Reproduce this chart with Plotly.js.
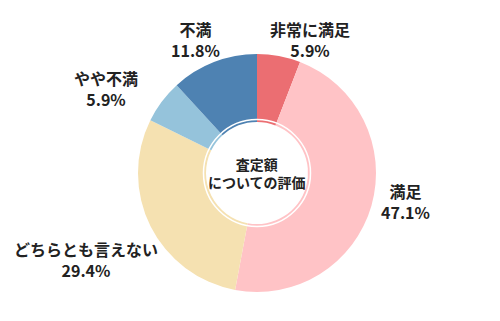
<!DOCTYPE html>
<html><head><meta charset="utf-8">
<script src="https://cdn.plot.ly/plotly-3.0.1.min.js"></script>
<style>html,body{margin:0;padding:0;background:#fff}#c{width:500px;height:321px}</style>
</head><body><div id="c"></div>
<script>
const labels = ["非常に満足", "満足", "どちらとも言えない", "やや不満", "不満"];
const values = [5.9, 47.1, 29.4, 5.9, 11.8];
const colors = ["#EB6E72", "#FFC3C6", "#F5E1B1", "#95C3DB", "#4E82B2"];
const centerText = "査定額<br>についての評価";

const W = 500, H = 321, cx = 257, cy = 173, R = 119;
const dom = {x: [(cx - R) / W, (cx + R) / W], y: [(H - cy - R) / H, (H - cy + R) / H]};

const labelPos = [[310, 39], [405, 201], [86, 259], [106, 89], [195, 39]];
const font = {family: "Noto Sans CJK JP, Noto Sans, sans-serif", size: 16, color: "#222"};
const annotations = labels.map((l, i) => ({
  text: "<b>" + l + "<br>" + values[i].toFixed(1) + "%</b>",
  x: labelPos[i][0] / W, y: 1 - labelPos[i][1] / H, xref: "paper", yref: "paper",
  showarrow: false, font: font, align: "center", xanchor: "center", yanchor: "middle"
}));
annotations.push({
  text: "<b>" + centerText + "</b>", x: cx / W, y: 1 - cy / H, xref: "paper", yref: "paper",
  showarrow: false, font: {family: font.family, size: 14, color: "#222"}, align: "center",
  xanchor: "center", yanchor: "middle"
});

const rr = 53.5;
Plotly.newPlot("c", [{
  type: "pie", labels: labels, values: values, sort: false, direction: "clockwise",
  rotation: 0, hole: 51 / R, marker: {colors: colors, line: {width: 0}},
  textinfo: "none", hoverinfo: "none", domain: dom, showlegend: false
}], {
  width: W, height: H, margin: {l: 0, r: 0, t: 0, b: 0},
  paper_bgcolor: "#fff", annotations: annotations,
  shapes: [{type: "circle", xref: "paper", yref: "paper",
    x0: (cx - rr) / W, x1: (cx + rr) / W, y0: 1 - (cy + rr) / H, y1: 1 - (cy - rr) / H,
    line: {color: "#fff", width: 1.5}}]
}, {staticPlot: true});
</script></body></html>
